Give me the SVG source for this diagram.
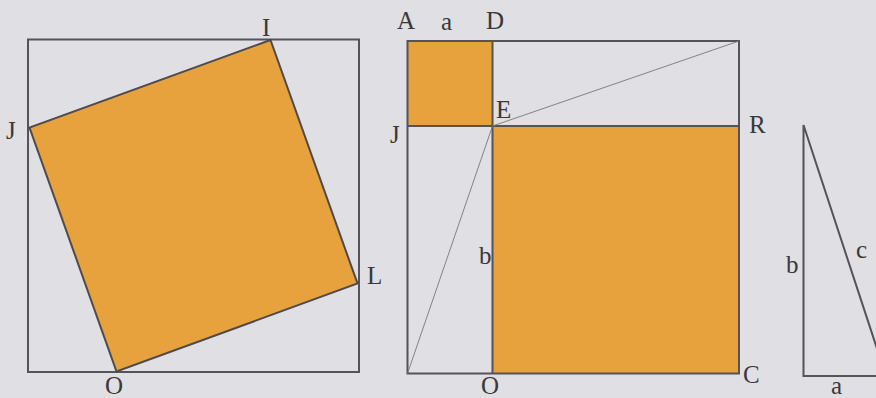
<svg xmlns="http://www.w3.org/2000/svg" width="876" height="398" viewBox="0 0 876 398">
<style>
.bg{fill:#dfdfe4}
.frame{fill:none;stroke:#555258;stroke-width:2}
.sq{fill:#e7a13d;stroke:#4f4a4c;stroke-width:2}
.or{fill:#e7a13d;stroke:none}
.thin{fill:none;stroke:#77777c;stroke-width:0.9}
.lbl{font-family:"Liberation Serif","Times New Roman",serif;font-size:25px;fill:#3a3838}
</style>
<rect class="bg" x="0" y="0" width="876" height="398"/>

<g id="fig1">
  <rect class="frame" x="28" y="39.5" width="331" height="332.5"/>
  <polygon class="sq" points="270.5,40 29.5,127.5 116.5,371.5 357.5,283.5"/>
  <text class="lbl" x="262" y="36">I</text>
  <text class="lbl" x="6" y="139">J</text>
  <text class="lbl" x="367" y="284">L</text>
  <text class="lbl" x="105" y="394">O</text>
</g>

<g id="fig2">
  <rect class="or" x="407.5" y="41" width="85" height="85"/>
  <rect class="or" x="492.5" y="126" width="246.5" height="247"/>
  <rect class="frame" x="407.5" y="41" width="331.5" height="332.5"/>
  <line class="frame" x1="492.5" y1="41" x2="492.5" y2="373.5"/>
  <line class="frame" x1="407.5" y1="126" x2="739" y2="126"/>
  <line class="thin" x1="492.5" y1="126" x2="739" y2="41"/>
  <line class="thin" x1="492.5" y1="126" x2="407.5" y2="373.5"/>
  <text class="lbl" x="397" y="29">A</text>
  <text class="lbl" x="441" y="30">a</text>
  <text class="lbl" x="486" y="29">D</text>
  <text class="lbl" x="496" y="118">E</text>
  <text class="lbl" x="749" y="133">R</text>
  <text class="lbl" x="390" y="143">J</text>
  <text class="lbl" x="479" y="264">b</text>
  <text class="lbl" x="481" y="394">O</text>
  <text class="lbl" x="743" y="383">C</text>
</g>

<g id="fig3">
  <polyline class="frame" points="880,376 803.5,376 803.5,125 886,376"/>
  <text class="lbl" x="786" y="273">b</text>
  <text class="lbl" x="856" y="258">c</text>
  <text class="lbl" x="831" y="394">a</text>
</g>
</svg>
